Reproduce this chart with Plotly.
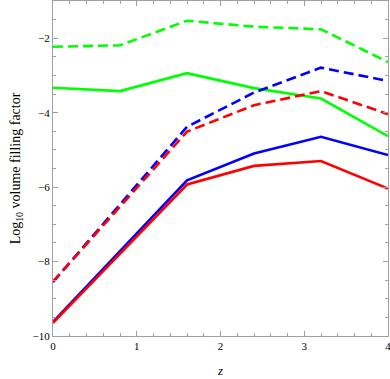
import plotly.graph_objects as go

z = [0, 0.8, 1.6, 2.4, 3.2, 4.0]

green_dashed = [-2.23, -2.19, -1.53, -1.69, -1.76, -2.64]
green_solid = [-3.33, -3.42, -2.94, -3.34, -3.62, -4.63]
blue_dashed = [-8.55, -6.47, -4.38, -3.46, -2.79, -3.15]
red_dashed = [-8.54, -6.52, -4.51, -3.80, -3.42, -4.04]
blue_solid = [-9.62, -7.72, -5.82, -5.10, -4.65, -5.14]
red_solid = [-9.65, -7.79, -5.93, -5.43, -5.30, -6.04]

series = [
    (green_dashed, "#00ff00", "10px,5px"),
    (green_solid, "#00ff00", "solid"),
    (blue_dashed, "#0000ff", "10px,5px"),
    (red_dashed, "#ff0000", "10px,5px"),
    (blue_solid, "#0000ff", "solid"),
    (red_solid, "#ff0000", "solid"),
]

fig = go.Figure()
for ys, col, dash in series:
    fig.add_trace(go.Scatter(x=z, y=ys, mode="lines",
                             line=dict(color=col, width=2.6, dash=dash)))

axis_style = dict(
    showgrid=False, zeroline=False, showline=True, linecolor="#a0a0a0",
    linewidth=1, mirror="allticks", ticks="inside", ticklen=5,
    tickcolor="#a0a0a0", tickwidth=1, automargin=False,
    ticklabeloverflow="allow",
    tickfont=dict(family="Liberation Serif", size=11, color="black"),
)

fig.update_xaxes(
    range=[0, 4], dtick=1, tick0=0,
    minor=dict(dtick=0.2, ticks="inside", ticklen=3, tickcolor="#a0a0a0"),
    title=dict(text="<i>z</i>", standoff=14,
               font=dict(family="Liberation Serif", size=13, color="black")),
    **axis_style,
)
fig.update_yaxes(
    range=[-10, -1], dtick=2, tick0=-10,
    minor=dict(dtick=0.5, ticks="inside", ticklen=3, tickcolor="#a0a0a0"),
    title=dict(text="Log<sub>10</sub> volume filling factor", standoff=8,
               font=dict(family="Liberation Serif", size=14, color="black")),
    **axis_style,
)

fig.update_layout(
    width=390, height=379,
    margin=dict(l=53, r=2, t=1, b=43),
    plot_bgcolor="white", paper_bgcolor="white",
    showlegend=False,
)

# drop the browser's default page margin so the figure sits at 0,0
fig.write_html("out.html", config={"displayModeBar": False},
               post_script="document.body.style.margin='0';")
